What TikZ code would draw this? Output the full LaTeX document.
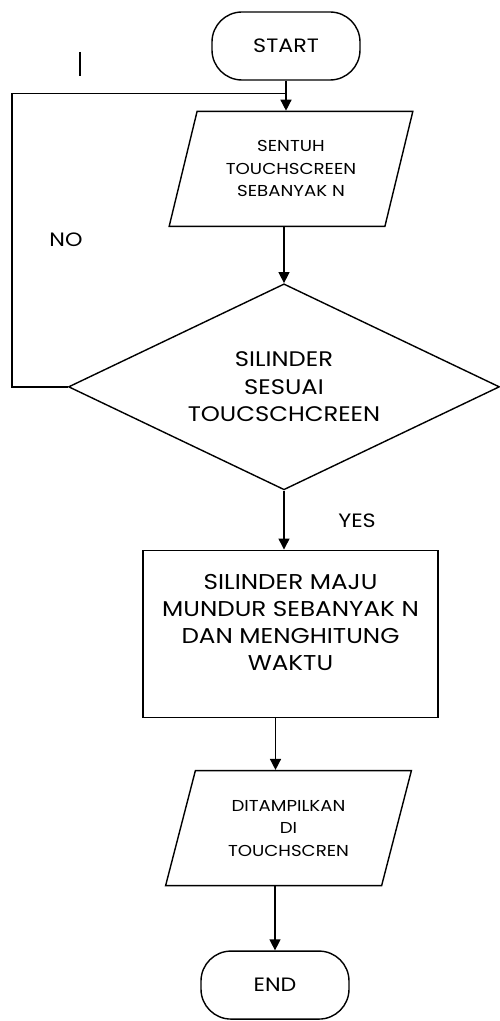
\documentclass[tikz,border=0pt]{standalone}
\usepackage{fontspec}
\setmainfont{Poppins}[FakeStretch=1.15]
\usetikzlibrary{arrows.meta,positioning,shapes.geometric}
\tikzset{
  terminal/.style={draw, rounded corners=0.6cm, line width=0.8pt,
                   minimum width=2.96cm, minimum height=1.36cm,
                   font=\fontsize{11}{13}\selectfont},
  io/.style={draw, trapezium, trapezium left angle=71, trapezium right angle=109,
             trapezium stretches=true, line width=0.8pt, align=center, inner sep=0pt,
             minimum width=4.92cm, minimum height=2.3cm,
             font=\fontsize{9}{12.8}\selectfont},
  decision/.style={draw, diamond, aspect=2.1, line width=0.8pt, align=center,
                   inner sep=0pt, minimum width=8.62cm, minimum height=4.12cm,
                   font=\fontsize{12}{15.6}\selectfont},
  process/.style={draw, line width=0.8pt, align=center,
                  minimum width=5.9cm, minimum height=3.34cm,
                  font=\fontsize{12.2}{15.4}\selectfont},
  lbl/.style={font=\fontsize{11}{13}\selectfont},
  flowline/.style={line width=0.8pt},
  flowarrow/.style={-{Triangle[length=0.22cm, width=0.22cm]}, line width=0.8pt}
}
\begin{document}
\begin{tikzpicture}
  \useasboundingbox (-5.72,0.92) rectangle (4.26,-19.5);
  \node[terminal] (start) at (0,0) {START};
  \node[io, below=0.6cm of start, xshift=0.1cm] (input)
    {SENTUH\\TOUCHSCREEN\\SEBANYAK N};
  \node[decision, below=1.12cm of input, xshift=-0.14cm] (check)
    {SILINDER\\SESUAI\\TOUCSCHCREEN};
  \node[process, below=1.18cm of check, xshift=0.13cm] (move)
    {SILINDER MAJU\\MUNDUR SEBANYAK N\\DAN MENGHITUNG\\WAKTU\\[-0.1cm]};
  \node[io, below=1.04cm of move, xshift=-0.04cm] (show)
    {DITAMPILKAN\\DI\\TOUCHSCREN};
  \node[terminal, below=1.28cm of show, xshift=-0.27cm] (stop) {END};
  \node[lbl] (no) at (-4.4,-3.88) {NO};
  \node[lbl] (yes) at ([xshift=1.46cm, yshift=-0.6cm]check.south) {YES};
  % loop back
  \coordinate (join) at ([yshift=-0.26cm]start.south);
  \coordinate (loop) at ([xshift=-5.48cm]join);
  \draw[flowline] (check.west) -| (loop) -- (join);
  \draw[flowline] (-4.12,-0.12) -- (-4.12,-0.6);
  % main flow
  \draw[flowarrow] (start.south) -- (start.south |- input.north);
  \draw[flowarrow] (check.north |- input.south) -- (check.north);
  \draw[flowarrow] (check.south) -- (check.south |- move.north);
  \draw[flowarrow] ([xshift=-0.3cm]move.south) -- ([xshift=-0.3cm]move.south |- show.north);
  \draw[flowarrow] (stop.north |- show.south) -- (stop.north);
\end{tikzpicture}
\end{document}
